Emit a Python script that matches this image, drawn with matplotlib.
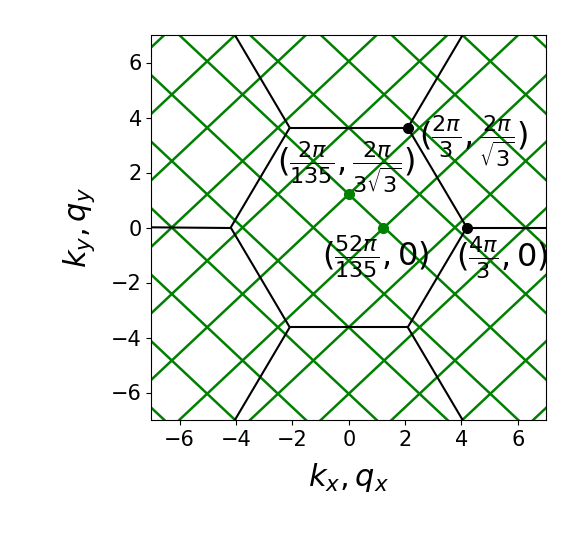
import numpy as np
import matplotlib
matplotlib.use("Agg")
import matplotlib.pyplot as plt
from matplotlib.collections import LineCollection

# ---- data ----
# graphene Brillouin-zone corner points (black dots)
K_points_x = [2*np.pi/3, 4*np.pi/3]
K_points_y = [2*np.pi/np.sqrt(3), 0.0]
# green points
q_points_x = [0.0, 52*np.pi/135]
q_points_y = [2*np.pi/(3*np.sqrt(3)), 0.0]
# green rhombic grid half-diagonals
q_half_x = 1.256
q_half_y = 1.209
# hexagon (BZ) radius
K_radius = 4*np.pi/3

labels = [r'$(\frac{2\pi}{3},\frac{2\pi}{\sqrt{3}})$',
          r'$(\frac{2\pi}{135},\frac{2\pi}{3\sqrt{3}})$',
          r'$(\frac{52\pi}{135},0)$',
          r'$(\frac{4\pi}{3},0)$']
label_x = [2.50, -2.55, -0.95, 3.80]
label_y = [3.15, 2.19, -1.08, -1.11]

xlim = (-7, 7)
ylim = (-7, 7)

fig = plt.figure(figsize=(5.81, 5.34), dpi=100)
ax = fig.add_axes([151.5/581, 1-420/534, 394.5/581, 385/534])

# green grid lines: x/a + y/b = c and x/a - y/b = c, c odd
a, b = q_half_x, q_half_y
segs = []
for k in range(-15, 16):
    c = 2*k + 1
    xs = np.array([-10.0, 10.0])
    segs.append(np.column_stack([xs, b*(c - xs/a)]))
    segs.append(np.column_stack([xs, b*(xs/a - c)]))
ax.add_collection(LineCollection(segs, colors='green', linewidths=1.8, zorder=1))

# black hexagon + outward edges
ang = np.deg2rad(np.arange(0, 360, 60))
vx = K_radius*np.cos(ang)
vy = K_radius*np.sin(ang)
bsegs = []
for i in range(6):
    j = (i + 1) % 6
    bsegs.append([(vx[i], vy[i]), (vx[j], vy[j])])
    bsegs.append([(vx[i], vy[i]), (2*vx[i], 2*vy[i])])
ax.add_collection(LineCollection(bsegs, colors='black', linewidths=1.5,
                                 capstyle='butt', zorder=2))

ax.plot(K_points_x, K_points_y, 'o', color='black', markersize=7, zorder=3)
ax.plot(q_points_x, q_points_y, 'o', color='green', markersize=7, zorder=3)

for t, x, y in zip(labels, label_x, label_y):
    ax.text(x, y, t, fontsize=23, ha='left', va='center', zorder=4)

ax.set_xlim(*xlim)
ax.set_ylim(*ylim)
ax.set_xticks([-6, -4, -2, 0, 2, 4, 6])
ax.set_yticks([-6, -4, -2, 0, 2, 4, 6])
ax.tick_params(labelsize=15)
ax.set_xlabel(r'$k_x, q_x$', fontsize=22, labelpad=8)
ax.set_ylabel(r'$k_y, q_y$', fontsize=22, labelpad=10)

fig.savefig('out.png', dpi=100)
